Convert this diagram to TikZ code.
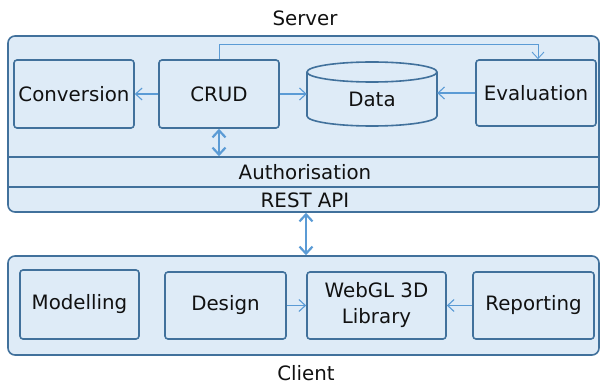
\documentclass[tikz,border=0pt]{standalone}
\usepackage{fontspec}
\setmainfont{DejaVu Sans}
\usetikzlibrary{arrows.meta}
\definecolor{fillb}{HTML}{DEEBF7}
\definecolor{edgeb}{HTML}{41719C}
\definecolor{arrb}{HTML}{5B9BD5}
\definecolor{txt}{HTML}{111111}
\begin{document}
\begin{tikzpicture}[x=1pt,y=-1pt,
 box/.style={draw=edgeb, fill=fillb, line width=1.6pt, rounded corners=3pt, inner sep=0pt, text=txt, font=\fontsize{19.8}{26}\selectfont, align=center},
 cont/.style={draw=edgeb, fill=fillb, line width=1.6pt, rounded corners=7pt, inner sep=0pt},
 lbl/.style={text=txt, font=\fontsize{19.8}{24}\selectfont, inner sep=0pt},
 arr/.style={draw=arrb, line width=1.1pt, -{Straight Barb[length=6.5pt,width=12pt]}},
 dbl/.style={draw=arrb, line width=2.2pt, {Straight Barb[length=7pt,width=13pt]}-{Straight Barb[length=7pt,width=13pt]}},
]
\useasboundingbox (0,0) rectangle (600,385);
% server container
\node[cont, minimum width=591pt, minimum height=176pt] (server) at (303.5,124) {};
\node[draw=edgeb, fill=fillb, line width=1.6pt, inner sep=0pt, minimum width=591pt, minimum height=30pt] (auth) at (303.5,172) {};
\node[lbl] (authlbl) at (305,172) {Authorisation};
\node[lbl] (rest) at (305,200) {REST API};
\node[lbl] (serverlbl) at (305,18) {Server};
% server boxes
\node[box, minimum width=120pt, minimum height=68pt] (conv) at (74,94) {Conversion};
\node[box, minimum width=120pt, minimum height=68pt] (crud) at (219,94) {CRUD};
\node[box, minimum width=120pt, minimum height=66pt] (eval) at (536,93) {Evaluation};
% data cylinder
\draw[draw=edgeb, fill=fillb, line width=1.6pt] (307,72) -- (307,116)
  arc[start angle=180,end angle=0,x radius=65,y radius=10] -- (437,72)
  arc[start angle=0,end angle=-180,x radius=65,y radius=10] -- cycle;
\draw[draw=edgeb, line width=1.6pt] (307,72) arc[start angle=180,end angle=0,x radius=65,y radius=10];
\node[inner sep=0pt, minimum width=130pt, minimum height=64pt, text=txt, font=\fontsize{19.8}{24}\selectfont] (data) at (372,99) {Data};
% server arrows
\draw[arr] (crud.west) -- (conv.east);
\draw[arr] (crud.east) -- (crud.east -| data.west);
\draw[arr] (eval.west) -- (eval.west -| data.east);
\coordinate (tk) at (538,44);
\draw[arr, line width=0.9pt] (crud.north) |- (tk) -- (tk |- eval.north);
\draw[dbl] (crud.south) -- (crud.south |- auth.north);
% client container
\node[cont, minimum width=591pt, minimum height=99pt] (client) at (303.5,305.5) {};
\node[lbl] (clientlbl) at (306,373) {Client};
\node[box, minimum width=119pt, minimum height=69pt] (model) at (79.5,304.5) {Modelling};
\node[box, minimum width=121pt, minimum height=67pt] (design) at (225.5,305.5) {Design};
\node[box, minimum width=139pt, minimum height=67pt] (webgl) at (376.5,305.5) {WebGL 3D\\Library};
\node[box, minimum width=121pt, minimum height=67pt] (report) at (533.5,305.5) {Reporting};
\draw[arr] (design.east) -- (webgl.west);
\draw[arr] (report.west) -- (webgl.east);
\coordinate (api) at (306,212);
\draw[dbl] (server.south -| api) -- (client.north -| api);
\end{tikzpicture}
\end{document}
